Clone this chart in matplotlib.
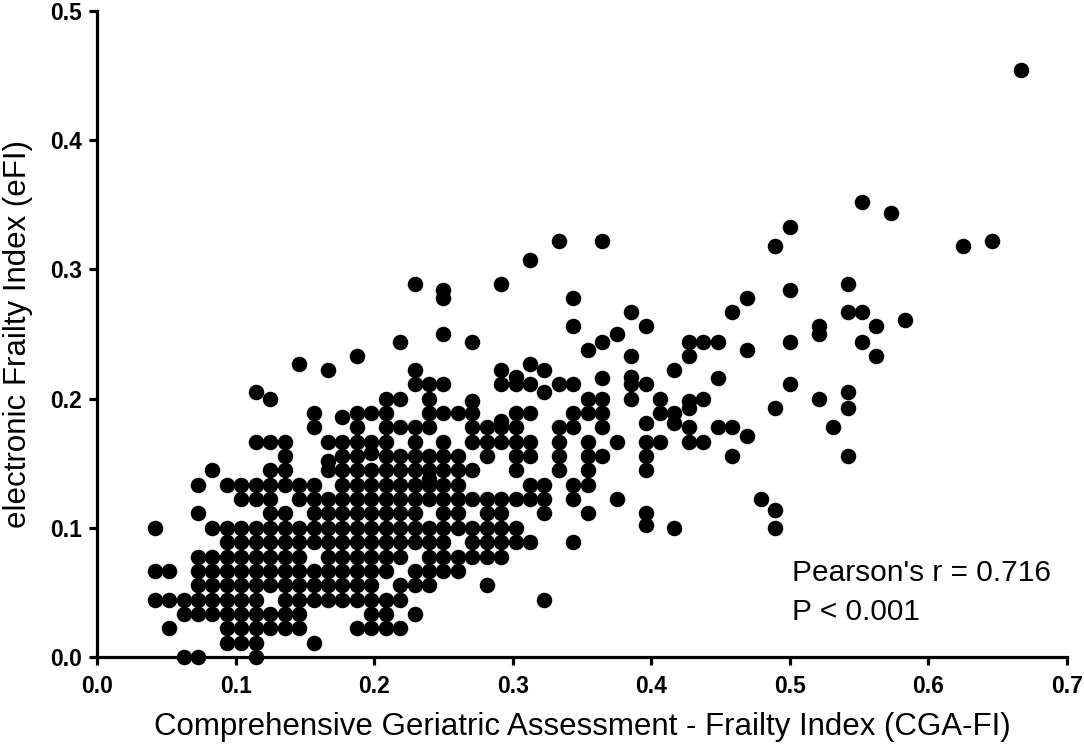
import matplotlib
matplotlib.use("Agg")
import matplotlib.pyplot as plt

plt.rcParams['font.family'] = ['Liberation Sans', 'DejaVu Sans']

# CGA-FI counted out of 96 deficits, eFI out of 90
CGA_DEN = 96
EFI_DEN = 90

# eFI deficit count -> CGA-FI deficit counts of the points in that row
rows = {
    0: [6, 7, 11],
    1: [9, 10, 11, 15],
    2: [5, 9, 10, 11, 12, 13, 14, 18, 19, 20, 21],
    3: [6, 7, 8, 9, 10, 11, 12, 13, 14, 19, 20, 22],
    4: [4, 5, 6, 7, 8, 9, 10, 11, 13, 14, 15, 16, 17, 18, 19, 20, 21, 31],
    5: [7, 8, 9, 10, 11, 12, 13, 14, 15, 16, 17, 18, 19, 21, 22, 23, 27],
    6: [4, 5, 7, 8, 9, 10, 11, 12, 13, 14, 15, 16, 17, 18, 19, 20, 22, 23, 24, 25],
    7: [7, 8, 9, 10, 11, 12, 13, 14, 16, 17, 18, 19, 20, 21, 23, 24, 25, 26, 27, 28],
    8: [9, 10, 11, 12, 13, 14, 15, 16, 17, 18, 19, 20, 21, 22, 23, 24, 26, 27, 28, 29, 30],
    9: [4, 8, 9, 10, 11, 12, 13, 14, 15, 16, 17, 18, 19, 20, 21, 22, 23, 24, 25, 26, 27,
        28, 29, 40, 47],
    10: [7, 12, 13, 15, 16, 17, 18, 19, 20, 21, 22, 24, 25, 27, 28, 31, 34, 38],
    11: [10, 11, 12, 14, 15, 16, 17, 18, 19, 20, 21, 22, 23, 24, 25, 26, 27, 28, 29, 30,
         31, 33, 36, 46],
    12: [7, 9, 10, 11, 12, 13, 14, 15, 17, 18, 19, 20, 21, 22, 23, 24, 25, 30, 31, 33, 34],
    13: [8, 12, 13, 16, 17, 18, 19, 20, 21, 22, 23, 24, 25, 26, 29, 32, 34, 38],
    14: [13, 17, 18, 20, 21, 22, 23, 24, 25, 27, 29, 30, 32, 34, 35, 38, 44, 52],
    15: [11, 12, 13, 16, 17, 18, 19, 20, 22, 24, 26, 27, 28, 29, 30, 32, 34, 36, 38, 39,
         41, 42],
    16: [15, 18, 20, 21, 22, 23, 26, 27, 28, 29, 32, 33, 35, 41, 43, 44, 51],
    17: [15, 18, 19, 20, 23, 24, 25, 26, 29, 30, 33, 34, 35, 39, 40],
    18: [12, 20, 21, 23, 34, 35, 37, 39, 42, 50],
    19: [22, 23, 24, 28, 29, 30, 32, 33, 37, 38, 48],
    20: [16, 22, 28, 31, 40],
}

# points off the row grid: CGA-FI count, eFI value
extra_k = [16, 19, 17, 28, 38, 40, 26, 41, 41, 47, 52, 11, 31, 52, 23,
           29, 35, 37, 43, 14, 30, 34, 45, 18, 37, 41, 54,
           21, 26, 35, 41, 42, 43, 48, 53,
           24, 36, 50, 33, 38, 50, 54, 56,
           37, 44, 52, 53, 24, 33, 45, 24, 48,
           22, 28, 52, 30, 47, 60, 32, 35, 62, 48, 55, 53, 64,
           38, 33, 47, 45]
extra_y = [0.152, 0.158, 0.186, 0.183, 0.181, 0.181, 0.198, 0.198, 0.193, 0.193, 0.193,
           0.205, 0.205, 0.205, 0.138,
           0.217, 0.216, 0.217, 0.216, 0.227, 0.227, 0.238, 0.238, 0.233, 0.233, 0.233, 0.233,
           0.244, 0.244, 0.244, 0.244, 0.244, 0.244, 0.244, 0.244,
           0.25, 0.25, 0.25, 0.256, 0.256, 0.256, 0.256, 0.261,
           0.267, 0.267, 0.267, 0.267, 0.278, 0.278, 0.278, 0.284, 0.284,
           0.289, 0.289, 0.289, 0.307, 0.318, 0.318, 0.322, 0.322, 0.322, 0.333, 0.344,
           0.352, 0.454,
           0.102, 0.089, 0.114, 0.171]

x_ticks = [0.0, 0.1, 0.2, 0.3, 0.4, 0.5, 0.6, 0.7]
y_ticks = [0.0, 0.1, 0.2, 0.3, 0.4, 0.5]

xs, ys = [], []
for j, ks in rows.items():
    for k in ks:
        xs.append(k / CGA_DEN)
        ys.append(j / EFI_DEN)
for k, y in zip(extra_k, extra_y):
    xs.append(k / CGA_DEN)
    ys.append(y)

fig = plt.figure(figsize=(10.84, 7.44), dpi=100)
ax = fig.add_axes([97 / 1084, 87 / 744, 970 / 1084, 646 / 744])

ax.scatter(xs, ys, s=125, c='black', linewidths=0, zorder=3, clip_on=False)

ax.set_xlim(0, 0.7)
ax.set_ylim(0, 0.5)
ax.set_xticks(x_ticks)
ax.set_yticks(y_ticks)
ax.set_xticklabels([f"{t:.1f}" for t in x_ticks])
ax.set_yticklabels([f"{t:.1f}" for t in y_ticks])

for side in ['top', 'right']:
    ax.spines[side].set_visible(False)
for side in ['left', 'bottom']:
    ax.spines[side].set_linewidth(2.3)
ax.tick_params(axis='both', which='major', direction='out', length=6, width=2.3,
               labelsize=16.5, pad=5)
ax.tick_params(axis='x', pad=7)
for lab in ax.get_xticklabels() + ax.get_yticklabels():
    lab.set_fontweight('bold')

ax.set_xlabel("Comprehensive Geriatric Assessment - Frailty Index (CGA-FI)", fontsize=22.5,
              labelpad=10)
ax.set_ylabel("electronic Frailty Index (eFI)", fontsize=22.5, labelpad=12)

ax.text(0.5015, 0.065, "Pearson's r = 0.716", fontsize=21.5, va='center', ha='left')
ax.text(0.5015, 0.035, "P < 0.001", fontsize=21.5, va='center', ha='left')

fig.savefig("out.png", dpi=100)
